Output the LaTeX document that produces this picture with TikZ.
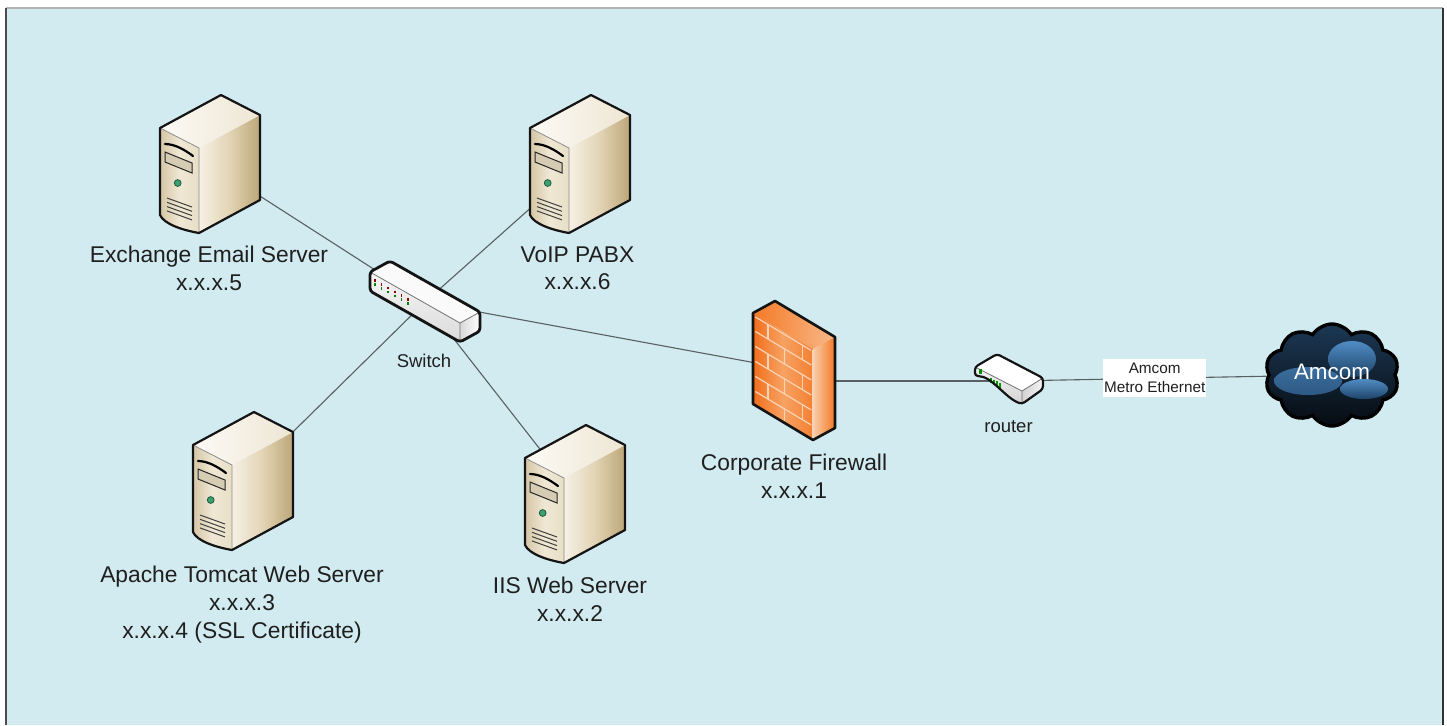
\documentclass[tikz,border=0pt]{standalone}
\usepackage{fontspec}
\setmainfont{Liberation Sans}
\usetikzlibrary{shapes.symbols}
\pgfdeclarelayer{paper}
\pgfdeclarelayer{wires}
\pgfsetlayers{paper,wires,main}
\definecolor{bgc}{RGB}{210,235,240}
\definecolor{wire}{RGB}{88,96,100}
\definecolor{srvtopA}{RGB}{252,250,245}
\definecolor{srvtopB}{RGB}{238,230,212}
\definecolor{srvfrA}{RGB}{212,198,164}
\definecolor{srvfrB}{RGB}{240,232,213}
\definecolor{srvfrC}{RGB}{232,222,198}
\definecolor{srvsdA}{RGB}{246,241,230}
\definecolor{srvsdB}{RGB}{226,212,180}
\definecolor{srvsdC}{RGB}{188,166,120}
\definecolor{srvslot}{RGB}{214,204,180}
\definecolor{ledg}{RGB}{60,160,112}
\definecolor{ledd}{RGB}{30,90,62}
\definecolor{fwA}{RGB}{242,110,28}
\definecolor{fwB}{RGB}{247,162,98}
\definecolor{fwC}{RGB}{244,128,50}
\definecolor{fwSA}{RGB}{249,206,172}
\definecolor{fwSB}{RGB}{244,120,36}
\definecolor{fwTA}{RGB}{244,122,38}
\definecolor{fwTB}{RGB}{248,184,136}
\definecolor{brickc}{RGB}{250,212,182}
\definecolor{cloudtop}{RGB}{28,56,84}
\definecolor{cloudbot}{RGB}{6,12,18}
\definecolor{blobA}{RGB}{80,140,196}
\definecolor{blobB}{RGB}{30,68,104}
\tikzset{
  wireline/.style={draw=wire, line width=0.55pt},
  devline/.style={draw=black!92, line width=1.1pt, line join=round},
  brick/.style={draw=brickc, line width=0.6pt},
  lbl/.style={font=\fontsize{11.4}{13.85}\selectfont, align=center, inner sep=0pt, anchor=north, text=black!88},
  smalllbl/.style={font=\fontsize{9.25}{11}\selectfont, inner sep=0pt, anchor=base, text=black!88},
  server/.pic={
    \path[left color=srvsdA, right color=srvsdC, middle color=srvsdB] (39,20) -- (100,-13) -- (100,72) -- (39,105) -- cycle;
    \path[left color=srvfrA, right color=srvfrC, middle color=srvfrB] (0,0) -- (39,20) -- (39,105) .. controls (22,102) and (4,96) .. (0,87) -- cycle;
    \path[left color=srvtopA, right color=srvtopB] (0,0) -- (61,-33) -- (100,-13) -- (39,20) -- cycle;
    \draw[black!45, line width=0.4pt] (0,0) -- (39,20) -- (39,105);
    \path[fill=srvslot, draw=black!85, line width=0.5pt] (5,24) -- (32,35) -- (32,45) -- (5,34) -- cycle;
    \draw[black, line width=1.1pt, line cap=round] (5,16) .. controls (15,16) and (25,22) .. (33,28);
    \path[fill=ledg, draw=ledd, line width=0.4pt] (17.7,55) circle [radius=1.7pt];
    \foreach \k in {0,1,2,3} \draw[black!75, line width=0.5pt] (7,70+4.3*\k) -- (32,79+4.3*\k);
    \draw[devline] (0,0) -- (61,-33) -- (100,-13) -- (100,72) -- (39,105) .. controls (22,102) and (4,96) .. (0,87) -- cycle;
  }
}
\begin{document}
\begin{tikzpicture}[x=0.5pt,y=-0.5pt]
\useasboundingbox (0,0) rectangle (1447,725);
\begin{pgfonlayer}{paper}
  \fill[bgc] (6,8) rectangle (1443,725);
  \draw[gray!60, line width=1pt] (6,8) -- (1443,8);
  \draw[black!70, line width=1pt] (6,8) -- (6,725);
  \draw[black!80, line width=1pt] (1443,8) -- (1443,725);
\end{pgfonlayer}

% device anchor points
\coordinate (exch) at (210,164);
\coordinate (voip) at (580,164);
\coordinate (apache) at (243,481);
\coordinate (iis) at (575,494);
\coordinate (sw) at (425,302);
\coordinate (fw) at (794,370);
\coordinate (router) at (1009,381);

% servers
\pic at (160,128) {server};
\pic at (530,128) {server};
\pic at (193,445) {server};
\pic at (525,458) {server};

% switch
\path[fill=white!96!gray] (370,272) -- (390,261) -- (480,312) -- (460,323) -- cycle;
\path[top color=gray!8, bottom color=gray!28] (370,272) -- (460,323) -- (460,342) -- (370,291) -- cycle;
\path[left color=gray!30, right color=white] (460,323) -- (480,312) -- (480,331) -- (460,342) -- cycle;
\draw[black!55, line width=0.4pt] (370,272) -- (460,323) -- (480,312) (460,323) -- (460,342);
\foreach \x/\t in {375/274.8,381.6/278.6,388.2/282.3,394.8/286.1,401.4/289.8,408/293.5} {
  \draw[red!55!black, line width=0.8pt] (\x,\t+4.5) -- (\x,\t+7);
  \draw[green!50!black, line width=0.8pt] (\x,\t+8.5) -- (\x,\t+11);
}
\draw[devline, line width=1.4pt, rounded corners=1.5pt] (370,272) -- (390,261) -- (480,312) -- (480,331) -- (460,342) -- (370,291) -- cycle;

% firewall
\path[left color=fwTA, right color=fwTB] (753,313) -- (775,301) -- (835,337) -- (813,349) -- cycle;
\path[left color=fwA, right color=fwC, middle color=fwB] (753,313) -- (813,349) -- (813,440) -- (753,404) -- cycle;
\path[left color=fwSA, right color=fwSB] (813,349) -- (835,337) -- (835,428) -- (813,440) -- cycle;
\foreach \h in {2.5,17,32,47,62,77} \draw[brick] (755.4,314.44+\h) -- (811.2,347.92+\h);
\foreach \a/\b in {2.5/17,32/47,62/77} {
  \draw[brick] (768,322+\a) -- (768,322+\b);
  \draw[brick] (802.8,342.88+\a) -- (802.8,342.88+\b);
}
\foreach \a/\b in {17/32,47/62,77/89} \draw[brick] (784.8,332.08+\a) -- (784.8,332.08+\b);
\draw[brick] (813,350) -- (813,439);
\draw[devline, line width=1.3pt] (753,313) -- (775,301) -- (835,337) -- (835,428) -- (813,440) -- (753,404) -- cycle;

% router
\path[fill=white] (975,367) -- (997,354) -- (1043,378) -- (1022,391) -- cycle;
\path[top color=gray!8, bottom color=gray!35] (975,367) -- (1022,391) -- (1022,404) .. controls (1005,398) and (992,376) .. (975,376) -- cycle;
\path[left color=gray!35, right color=gray!8] (1022,391) -- (1043,378) -- (1043,389) -- (1022,404) -- cycle;
\draw[black!55, line width=0.4pt] (975,367) -- (1022,391) -- (1043,378) (1022,391) -- (1022,404);
\path[fill=green!55!black] (978.5,369) rectangle (982,373.5);
\foreach \x in {991,994,997,1000} \draw[green!60!black, line width=0.6pt] (\x,367+0.51*\x-497.25+3) -- (\x,367+0.51*\x-497.25+8);
\draw[devline, rounded corners=1.5pt] (975,367) -- (997,354) -- (1043,378) -- (1043,389) -- (1022,404) .. controls (1005,398) and (992,376) .. (975,376) -- cycle;

% cloud
\node[cloud, cloud puffs=10, cloud puff arc=115, aspect=1.3, minimum width=67pt, minimum height=51pt,
      draw=black, line width=1.7pt, top color=cloudtop, bottom color=cloudbot, inner sep=0pt,
      text=white, font=\fontsize{11.2}{13}\selectfont, text depth=3pt,
      path picture={
        \path[top color=blobA, bottom color=blobB] ([shift={(-12pt,-3pt)}]path picture bounding box.center) ellipse [x radius=17pt, y radius=7pt];
        \path[top color=blobA, bottom color=blobB] ([shift={(10pt,8pt)}]path picture bounding box.center) ellipse [x radius=12pt, y radius=9pt];
        \path[top color=blobA, bottom color=blobB] ([shift={(16pt,-7pt)}]path picture bounding box.center) ellipse [x radius=12pt, y radius=5pt];
      }] (cloud) at (1332,375) {Amcom};

% connectors
\begin{pgfonlayer}{wires}
  \draw[wireline] (sw) -- (exch);
  \draw[wireline] (sw) -- (voip);
  \draw[wireline] (sw) -- (apache);
  \draw[wireline] (sw) -- (iis);
  \draw[wireline] (sw) -- (fw);
  \draw[wireline] (router) -- (router -| fw);
  \draw[wireline] (router) -- (cloud);
\end{pgfonlayer}

% link label
\node[fill=white, inner sep=0pt, minimum width=51.5pt, minimum height=18.7pt, align=center,
      font=\fontsize{7.65}{9.2}\selectfont, text=black!88] (linklbl) at (1154.7,378) {Amcom\\Metro Ethernet};

% labels
\node[lbl] (exchlbl) at (209,246) {Exchange Email Server\\x.x.x.5};
\node[lbl] (voiplbl) at (577.5,246) {VoIP PABX\\x.x.x.6};
\node[lbl] (apachelbl) at (242,566) {Apache Tomcat Web Server\\x.x.x.3\\x.x.x.4 (SSL Certificate)};
\node[lbl] (iislbl) at (570,576.6) {IIS Web Server\\x.x.x.2};
\node[lbl] (fwlbl) at (794,453.6) {Corporate Firewall\\x.x.x.1};
\node[smalllbl] (swlbl) at (424,367.3) {Switch};
\node[smalllbl] (routerlbl) at (1008.5,432.7) {router};
\end{tikzpicture}
\end{document}
